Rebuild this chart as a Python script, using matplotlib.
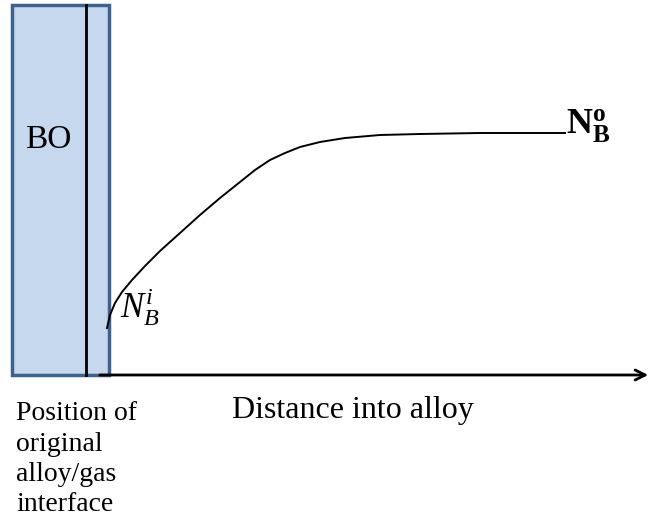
import matplotlib.pyplot as plt
from matplotlib.patches import Rectangle

plt.rcParams['font.family'] = ['Liberation Serif', 'DejaVu Serif']
plt.rcParams['mathtext.fontset'] = 'custom'
plt.rcParams['mathtext.rm'] = 'Liberation Serif'
plt.rcParams['mathtext.it'] = 'Liberation Serif:italic'
plt.rcParams['mathtext.bf'] = 'Liberation Serif:bold'

# concentration profile of B in the alloy (schematic units, y grows downward)
dist = [107, 110, 115, 122, 132, 145, 160, 180, 200, 220, 240, 255, 270, 285,
        300, 320, 345, 380, 420, 480, 565]
conc = [328, 315, 303, 292, 280, 266, 251, 233, 215, 198, 182, 170, 160, 153,
        147, 142, 138, 135, 134, 133, 133]

caption_lines = ['Position of', 'original', 'alloy/gas', 'interface']
caption_base = [420, 451, 481, 511]

oxide_left, oxide_right = 12, 109
oxide_top, axis_y = 5, 375
interface_x = 86

fig = plt.figure(figsize=(6.52, 5.29), dpi=100)
ax = fig.add_axes([0, 0, 1, 1])
ax.set_xlim(0, 652)
ax.set_ylim(529, 0)
ax.axis('off')

# oxide scale BO
ax.add_patch(Rectangle((oxide_left, oxide_top), oxide_right - oxide_left, axis_y - oxide_top,
                       facecolor='#c6d8ee', edgecolor='#3d6290', linewidth=2.5, zorder=1))
ax.plot([interface_x, interface_x], [oxide_top, axis_y], color='black', lw=2, zorder=2)
ax.text(25, 148, 'BO', fontsize=24, ha='left', va='baseline')

# distance axis
ax.annotate('', xy=(651, axis_y), xytext=(97, axis_y),
            arrowprops=dict(arrowstyle='->', lw=2, color='black',
                            mutation_scale=18), zorder=2)

ax.plot(dist, conc, color='black', lw=1.4, zorder=3, solid_joinstyle='round')

ax.text(566, 134, r'$\mathbf{N}_{\mathbf{B}}^{\mathbf{o}}$', fontsize=26, ha='left', va='baseline')
ax.text(120, 318, r'$N_{B}^{i}$', fontsize=25, ha='left', va='baseline')

for line, yb in zip(caption_lines, caption_base):
    ax.text(16, yb, line, fontsize=20, ha='left', va='baseline')
ax.text(232, 418, 'Distance into alloy', fontsize=23, ha='left', va='baseline')

fig.savefig('out.png', dpi=100)
